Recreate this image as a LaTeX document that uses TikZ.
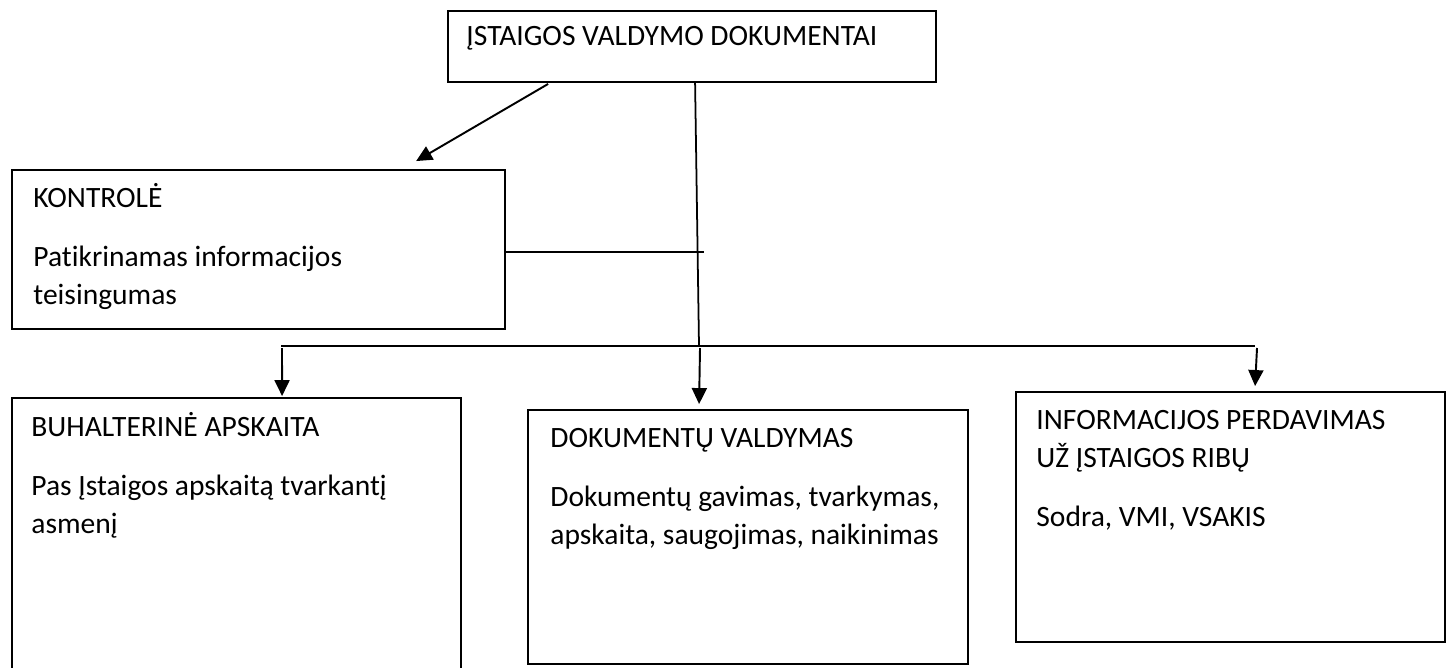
\documentclass[tikz,border=0pt]{standalone}
\usepackage{fontspec}
\setmainfont{Carlito}[Ligatures=NoCommon]
\usetikzlibrary{calc,arrows.meta}

\begin{document}
\begin{tikzpicture}[x=0.02cm,y=-0.02cm,
        box/.style={rectangle,draw,line width=1.1pt,inner sep=0pt},
        txt/.style={anchor=base west,inner sep=0pt,text width=9cm,align=flush left,
            font=\fontsize{16.8}{21.6}\selectfont},
        conn/.style={line width=1pt},
        arr/.style={line width=1.1pt,-{Triangle[length=0.32cm,width=0.3cm]}}]

        \useasboundingbox (0,0) rectangle (1452,667);

        \node[box, minimum width=9.76cm, minimum height=1.42cm] (tb) at (692,46.5) {};
        \node[txt] (tbt) at ($(tb.north west)+(19,35)$) {ĮSTAIGOS VALDYMO DOKUMENTAI};

        \node[box, minimum width=9.86cm, minimum height=3.18cm] (ctrl) at (258.5,249.5) {};
        \node[txt] (ctrlt) at ($(ctrl.north west)+(22,38)$) {KONTROLĖ\\[12pt]Patikrinamas informacijos\\teisingumas};

        \node[box, minimum width=8.98cm, minimum height=6.44cm] (buh) at (236.5,559) {};
        \node[txt] (buht) at ($(buh.north west)+(20,39)$) {BUHALTERINĖ APSKAITA\\[12pt]Pas Įstaigos apskaitą tvarkantį\\asmenį};

        \node[box, minimum width=8.8cm, minimum height=5.08cm] (dok) at (748,537) {};
        \node[txt] (dokt) at ($(dok.north west)+(23,38)$) {DOKUMENTŲ VALDYMAS\\[12pt]Dokumentų gavimas, tvarkymas,\\apskaita, saugojimas, naikinimas};

        \node[box, minimum width=8.58cm, minimum height=5cm] (info) at (1230.5,517) {};
        \node[txt] (infot) at ($(info.north west)+(21,38)$) {INFORMACIJOS PERDAVIMAS\\UŽ ĮSTAIGOS RIBŲ\\[12pt]Sodra, VMI, VSAKIS};

        %\draw[conn] (tb.south) -- (j);
        \coordinate (j) at (699,346);
        \coordinate (bl) at (281,346);
        \coordinate (br) at (1255,346);

        \draw[arr] ($(tb.south west)+(101,1)$) -- ($(ctrl.north west)+(405,-8)$);
        \draw[conn] ($(tb.south west)+(248,0)$) -- (j);
        \draw[conn] ($(ctrl.east)+(0,2.5)$) -- ++(198,0);
        \draw[conn] (bl) -- (br);

        \draw[arr] ($(bl)+(1,2)$) -- ($(buh.north west)+(271,-1)$);
        \draw[arr] ($(j)+(1,2)$) -- ($(dok.north west)+(172,-5)$);
        \draw[arr] ($(br)+(2,2)$) -- ($(info.north west)+(240,-5)$);
    \end{tikzpicture}
\end{document}
